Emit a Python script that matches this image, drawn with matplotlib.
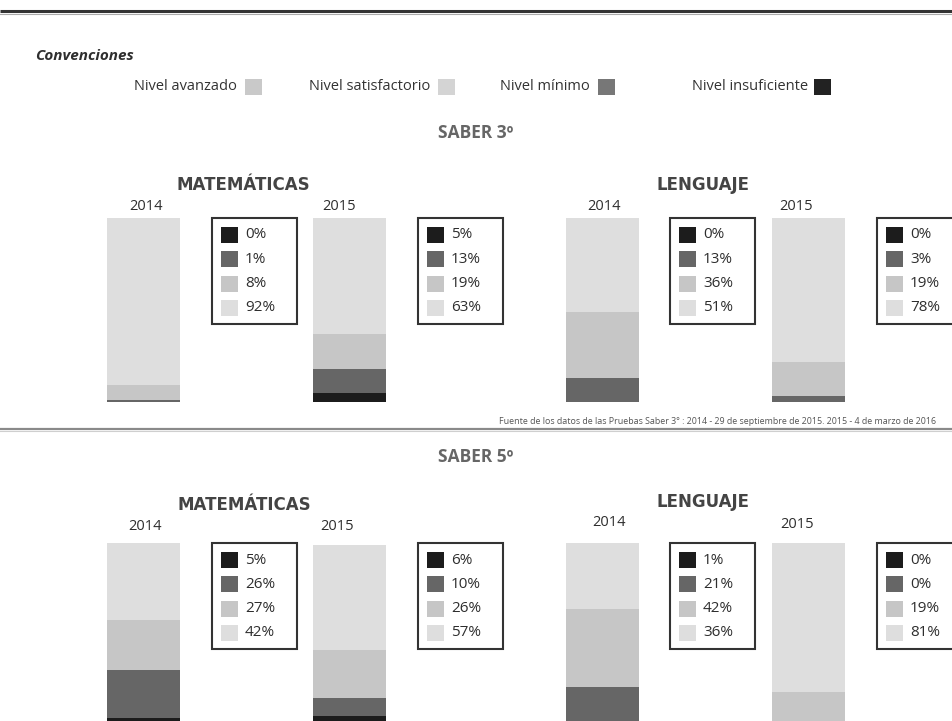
import matplotlib
matplotlib.use("Agg")
import matplotlib.pyplot as plt
from matplotlib.patches import Rectangle

# ---------------- data ----------------
levels = ["Nivel insuficiente", "Nivel mínimo", "Nivel satisfactorio", "Nivel avanzado"]
years = ["2014", "2015"]
subjects = ["MATEMÁTICAS", "LENGUAJE"]
grades = ["SABER 3º", "SABER 5º"]

# values per bar, ordered insuficiente, mínimo, satisfactorio, avanzado
saber3_mat_2014 = [0, 1, 8, 92]
saber3_mat_2015 = [5, 13, 19, 63]
saber3_len_2014 = [0, 13, 36, 51]
saber3_len_2015 = [0, 3, 19, 78]
saber5_mat_2014 = [5, 26, 27, 42]
saber5_mat_2015 = [6, 10, 26, 57]
saber5_len_2014 = [1, 21, 42, 36]
saber5_len_2015 = [0, 0, 19, 81]

source_note = ("Fuente de los datos de las Pruebas Saber 3° : 2014 - 29 de septiembre de 2015. "
               "2015 - 4 de marzo de 2016")

# ---------------- style ----------------
bar_colors = ["#1c1c1c", "#666666", "#c6c6c6", "#dedede"]
swatch_colors = {"Nivel avanzado": "#c9c9c9", "Nivel satisfactorio": "#d4d4d4",
                 "Nivel mínimo": "#777777", "Nivel insuficiente": "#222222"}
SANS = ["Open Sans", "DejaVu Sans"]
TITLE = ["DejaVu Sans"]

W, H = 952, 721
fig = plt.figure(figsize=(W / 100, H / 100), dpi=100)
fig.patch.set_facecolor("white")

ov = fig.add_axes([0, 0, 1, 1])
ov.set_xlim(0, W)
ov.set_ylim(H, 0)
ov.axis("off")

# top border and separator
ov.plot([0, W], [11, 11], color="#333333", lw=2.2, solid_capstyle="butt")
ov.plot([0, W], [13.5, 13.5], color="#aaaaaa", lw=0.8)
ov.plot([0, W], [429, 429], color="#8a8a8a", lw=1.6)
ov.plot([0, W], [431, 431], color="#cfcfcf", lw=0.8)

# conventions
ov.text(35, 56, "Convenciones", family=SANS, fontsize=11, fontweight="bold",
        fontstyle="italic", color="#2e2e2e", va="center", ha="left")
top_legend = [("Nivel avanzado", 237, 245), ("Nivel satisfactorio", 430, 438),
              ("Nivel mínimo", 590, 598), ("Nivel insuficiente", 808, 814)]
for name, tx, sx in top_legend:
    ov.text(tx, 87, name, family=SANS, fontsize=10.5, color="#333333",
            va="center", ha="right")
    ov.add_patch(Rectangle((sx, 79), 17, 16, facecolor=swatch_colors[name],
                           edgecolor="none"))

# section titles
ov.text(476, 133, grades[0], family=SANS, fontsize=12.5, fontweight="bold",
        color="#666666", ha="center", va="center")
ov.text(476, 457, grades[1], family=SANS, fontsize=12.5, fontweight="bold",
        color="#666666", ha="center", va="center")
ov.text(936, 421, source_note, family=SANS, fontsize=6.4, color="#555555",
        ha="right", va="center")

# panel layout: (values, bar_left, bar_top, bar_bottom, box_left, year_x, year_y)
BAR_W = 73
BOX_W, BOX_H = 85, 106
panels = [
    (saber3_mat_2014, 107, 218, 402, 212, 146, 207),
    (saber3_mat_2015, 313, 218, 402, 418, 339, 206),
    (saber3_len_2014, 566, 218, 402, 670, 604, 207),
    (saber3_len_2015, 772, 218, 402, 877, 796, 206),
    (saber5_mat_2014, 107, 543, 727, 212, 145, 527),
    (saber5_mat_2015, 313, 543, 727, 418, 337, 526),
    (saber5_len_2014, 566, 543, 727, 670, 609, 523),
    (saber5_len_2015, 772, 543, 727, 877, 797, 524),
]
year_of_panel = [years[0], years[1]] * 4

subject_titles = [(subjects[0], 243, 185), (subjects[1], 703, 185),
                  (subjects[0], 244, 505), (subjects[1], 703, 502)]
for name, x, y in subject_titles:
    ov.text(x, y, name, family=TITLE, fontsize=12, fontweight="bold",
            color="#444444", ha="center", va="center")

for (vals, bl, bt, bb, boxl, yx, yy), yr in zip(panels, year_of_panel):
    ax = fig.add_axes([bl / W, 1 - bb / H, BAR_W / W, (bb - bt) / H])
    ax.set_xlim(-0.5, 0.5)
    ax.set_ylim(0, 100)
    ax.axis("off")
    bottom = 0
    for v, c in zip(vals, bar_colors):
        ax.bar(0, v, width=1.0, bottom=bottom, color=c, edgecolor="none")
        bottom += v

    ov.text(yx, yy, yr, family=SANS, fontsize=10.5, color="#2e2e2e",
            ha="center", va="center")

    # legend box
    ov.add_patch(Rectangle((boxl, bt), BOX_W, BOX_H, facecolor="white",
                           edgecolor="#333333", lw=1.5, zorder=3))
    for i, (v, c) in enumerate(zip(vals, bar_colors)):
        ry = bt + 17 + i * 24.3
        ov.add_patch(Rectangle((boxl + 9, ry - 8), 17, 16, facecolor=c,
                               edgecolor="none", zorder=4))
        ov.text(boxl + 33, ry, f"{v}%", family=SANS, fontsize=11,
                color="#2e2e2e", ha="left", va="center", zorder=4)

fig.savefig("out.png", dpi=100, facecolor="white")
